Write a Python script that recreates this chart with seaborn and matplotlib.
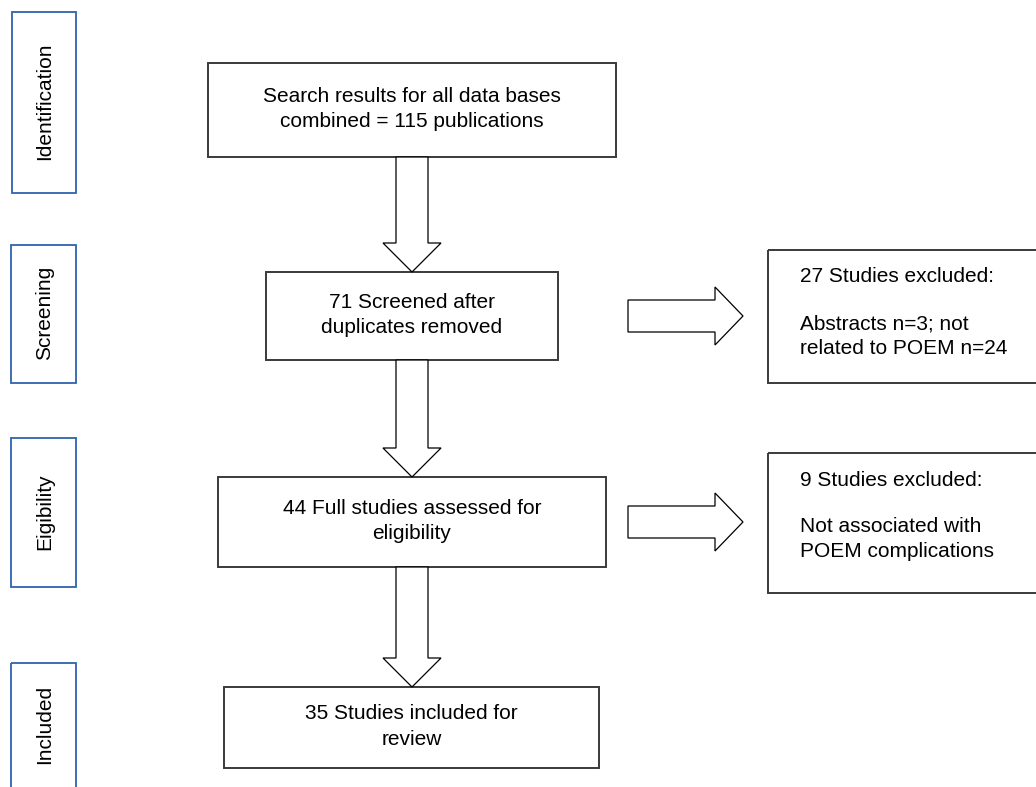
import matplotlib
matplotlib.use("Agg")
import matplotlib.pyplot as plt
from matplotlib.patches import Rectangle, Polygon
import seaborn as sns

# ---- content ----
stage_labels = ["Identification", "Screening", "Eigibility", "Included"]
main_texts = [
    "Search results for all data bases\ncombined = 115 publications",
    "71 Screened after\nduplicates removed",
    "44 Full studies assessed for\neligibility",
    "35 Studies included for\nreview",
]
side_headers = ["27 Studies excluded:", "9 Studies excluded:"]
side_bodies = [
    "Abstracts n=3; not\nrelated to POEM n=24",
    "Not associated with\nPOEM complications",
]

# ---- layout (pixel space) ----
stage_boxes = [(12, 12, 76, 193), (11, 245, 76, 383), (11, 438, 76, 587), (11, 663, 76, 800)]
main_boxes = [(208, 63, 616, 157), (266, 272, 558, 360), (218, 477, 606, 567), (224, 687, 599, 768)]
side_boxes = [(768, 250, 1040, 383), (768, 453, 1040, 593)]
side_arrow_y = [316, 522]

sns.set_theme(style="white")
plt.rcParams['font.family'] = ['Liberation Sans', 'DejaVu Sans']

fig = plt.figure(figsize=(10.36, 7.87), dpi=100)
ax = fig.add_axes([0, 0, 1, 1])
ax.set_xlim(0, 1036)
ax.set_ylim(787, 0)
ax.axis("off")

blue = "#2f62b0"
dark = "#3a3a3a"
fs = 15

for (x0, y0, x1, y1), lab in zip(stage_boxes, stage_labels):
    ax.add_patch(Rectangle((x0, y0), x1 - x0, y1 - y0, fill=False, ec=blue, lw=1.3))
    cy = (y0 + min(y1, 787)) / 2
    ax.text((x0 + x1) / 2 + 1, cy - 1, lab, rotation=90, ha="center", va="center",
            fontsize=fs, color="black")

for (x0, y0, x1, y1), t in zip(main_boxes, main_texts):
    ax.add_patch(Rectangle((x0, y0), x1 - x0, y1 - y0, fill=False, ec=dark, lw=1.4))
    ax.text((x0 + x1) / 2, (y0 + y1) / 2 - 1, t, ha="center", va="center",
            fontsize=fs, color="black", linespacing=1.45)

for (x0, y0, x1, y1), h, b in zip(side_boxes, side_headers, side_bodies):
    ax.add_patch(Rectangle((x0, y0), x1 - x0, y1 - y0, fill=False, ec=dark, lw=1.4))
    ax.text(x0 + 32, y0 + 27, h, ha="left", va="center",
            fontsize=fs, color="black")
    ax.text(x0 + 32, y0 + 86, b, ha="left", va="center",
            fontsize=fs, color="black", linespacing=1.4)

# down arrows between main boxes
cx = 412
for i in range(len(main_boxes) - 1):
    top = main_boxes[i][3]
    tip = main_boxes[i + 1][1]
    hs = tip - 29
    pts = [(cx - 16, top), (cx + 16, top), (cx + 16, hs), (cx + 29, hs), (cx, tip),
           (cx - 29, hs), (cx - 16, hs)]
    ax.add_patch(Polygon(pts, closed=True, fc="white", ec="black", lw=0.9, zorder=3))

# right arrows to side boxes
for yc in side_arrow_y:
    x0, x1, xh = 628, 743, 715
    pts = [(x0, yc - 16), (xh, yc - 16), (xh, yc - 29), (x1, yc), (xh, yc + 29),
           (xh, yc + 16), (x0, yc + 16)]
    ax.add_patch(Polygon(pts, closed=True, fc="white", ec="black", lw=0.9, zorder=3))

fig.savefig("out.png", dpi=100, facecolor="white")
